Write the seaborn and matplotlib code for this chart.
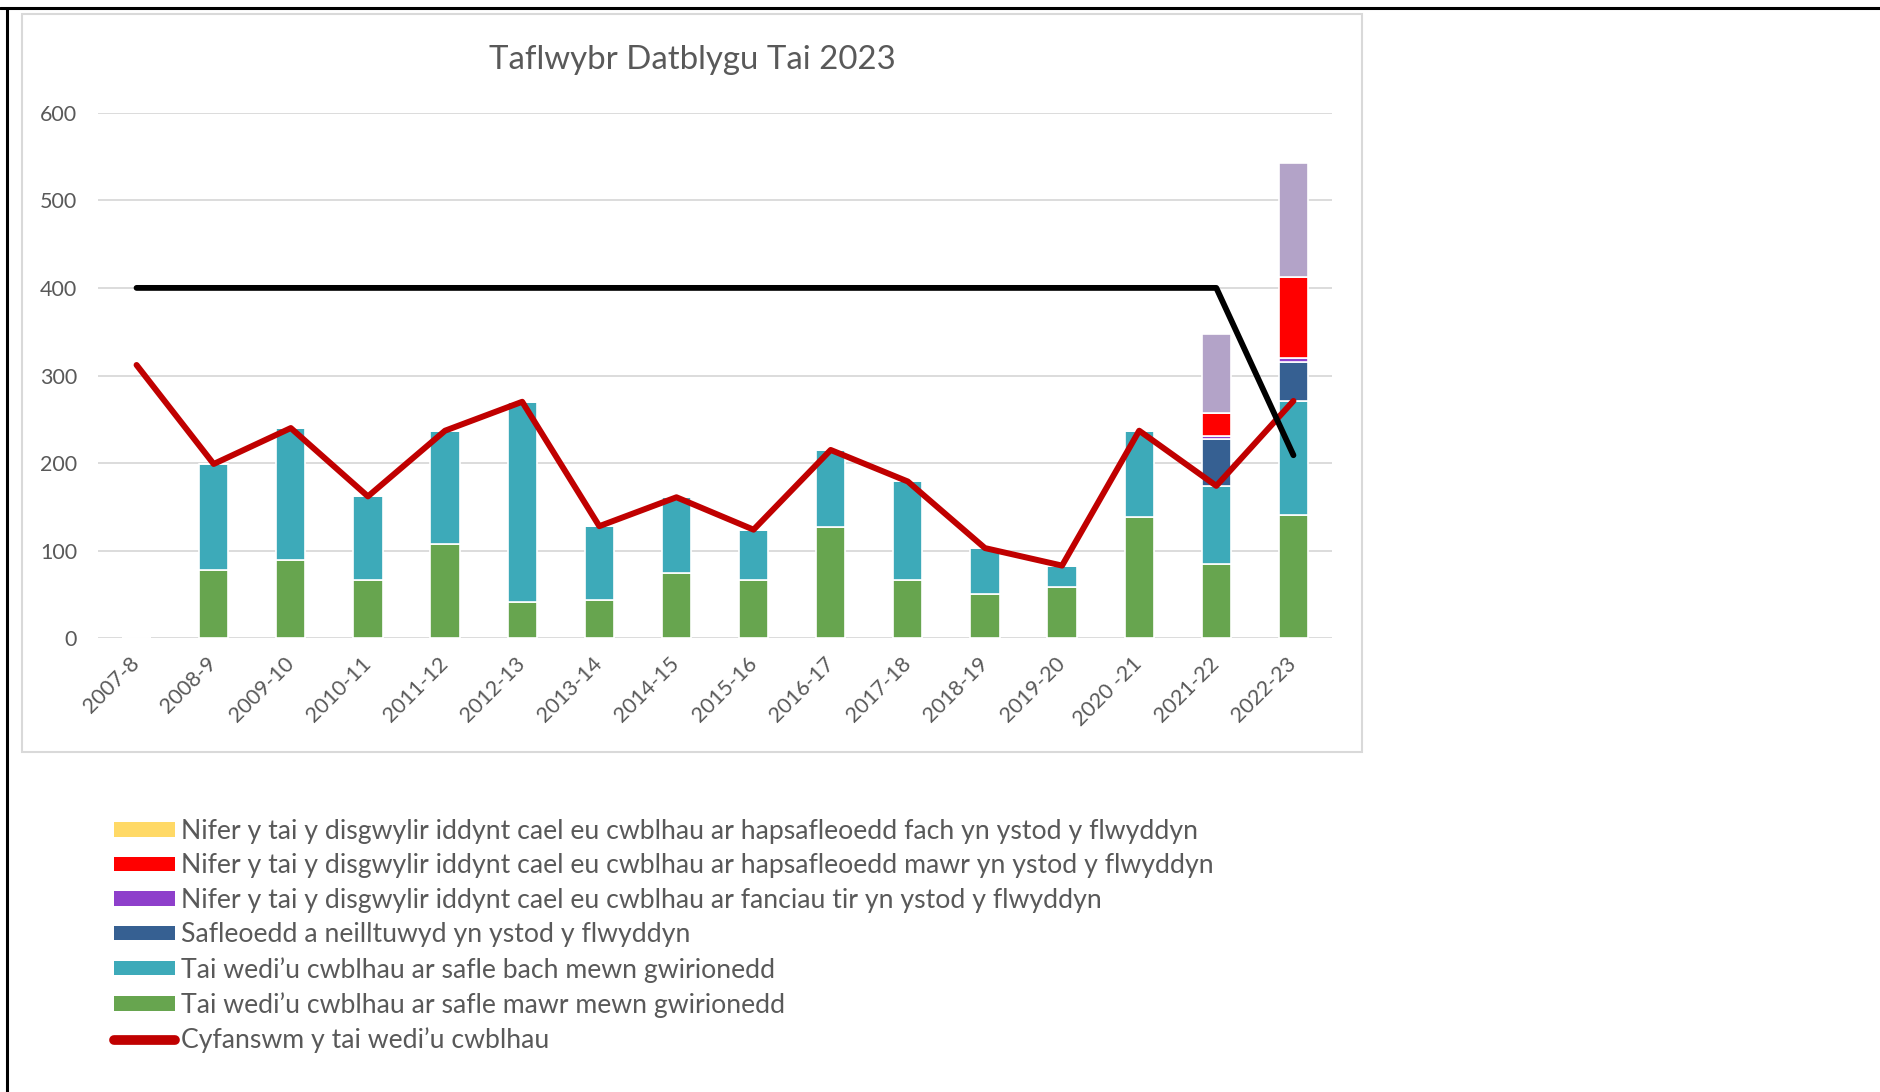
import numpy as np
import pandas as pd
import matplotlib
matplotlib.use("Agg")
import matplotlib.pyplot as plt
from matplotlib.patches import Patch, Rectangle
from matplotlib.lines import Line2D
import seaborn as sns

# ---------------- data ----------------
years = ["2007-8", "2008-9", "2009-10", "2010-11", "2011-12", "2012-13", "2013-14",
         "2014-15", "2015-16", "2016-17", "2017-18", "2018-19", "2019-20", "2020 -21",
         "2021-22", "2022-23"]
large_sites_actual = [0, 78, 89, 67, 108, 41, 44, 75, 67, 127, 67, 51, 58, 138, 85, 141]
small_sites_actual = [0, 121, 151, 95, 129, 229, 84, 86, 57, 88, 112, 52, 25, 99, 89, 130]
allocated_sites = [0, 0, 0, 0, 0, 0, 0, 0, 0, 0, 0, 0, 0, 0, 54, 44]
land_banks_expected = [0, 0, 0, 0, 0, 0, 0, 0, 0, 0, 0, 0, 0, 0, 3, 5]
large_windfall_expected = [0, 0, 0, 0, 0, 0, 0, 0, 0, 0, 0, 0, 0, 0, 26, 93]
small_windfall_expected = [0, 0, 0, 0, 0, 0, 0, 0, 0, 0, 0, 0, 0, 0, 0, 0]
unlabelled_extra = [0, 0, 0, 0, 0, 0, 0, 0, 0, 0, 0, 0, 0, 0, 90, 130]
total_completed = [312, 199, 240, 162, 237, 270, 128, 161, 124, 215, 179, 103, 83, 237, 174, 271]
target_line = [400, 400, 400, 400, 400, 400, 400, 400, 400, 400, 400, 400, 400, 400, 400, 209]

labels = [
    "Nifer y tai y disgwylir iddynt cael eu cwblhau ar hapsafleoedd fach yn ystod y flwyddyn",
    "Nifer y tai y disgwylir iddynt cael eu cwblhau ar hapsafleoedd mawr yn ystod y flwyddyn",
    "Nifer y tai y disgwylir iddynt cael eu cwblhau ar fanciau tir yn ystod y flwyddyn",
    "Safleoedd a neilltuwyd yn ystod y flwyddyn",
    "Tai wedi\u2019u cwblhau ar safle bach mewn gwirionedd",
    "Tai wedi\u2019u cwblhau ar safle mawr mewn gwirionedd",
    "Cyfanswm y tai wedi\u2019u cwblhau",
]
title = "Taflwybr Datblygu Tai 2023"

# ---------------- style ----------------
C_GREEN = "#67A54F"
C_TEAL = "#3DAAB9"
C_BLUE = "#366092"
C_PURPLE = "#8E3FCB"
C_RED = "#FF0000"
C_YELLOW = "#FFD966"
C_LAV = "#B3A3C8"
C_LINE = "#C00000"
TXT = "#595959"

sns.set_theme(style="white")
plt.rcParams["font.family"] = ["Lato", "DejaVu Sans"]

W, H = 1881, 1092
fig = plt.figure(figsize=(W / 100, H / 100), dpi=100)
fig.patch.set_facecolor("white")

ax = fig.add_axes([98 / W, 1 - 638.3 / H, (1332 - 98) / W, (638.3 - 112.7) / H])

stack = [
    (large_sites_actual, C_GREEN),
    (small_sites_actual, C_TEAL),
    (allocated_sites, C_BLUE),
    (land_banks_expected, C_PURPLE),
    (large_windfall_expected, C_RED),
    (small_windfall_expected, C_YELLOW),
    (unlabelled_extra, C_LAV),
]
bottom = np.zeros(len(years))
for vals, col in stack:
    v = np.asarray(vals, dtype=float)
    sns.barplot(x=years, y=v, order=years, color=col, width=0.38, bottom=bottom,
                errorbar=None, edgecolor="white", linewidth=1.2, saturation=1,
                ax=ax, zorder=2)
    bottom = bottom + v

sns.lineplot(x=years, y=total_completed, sort=False, color=C_LINE, lw=4.3,
             ax=ax, zorder=4, solid_capstyle="round")
sns.lineplot(x=years, y=target_line, sort=False, color="black", lw=4.2,
             ax=ax, zorder=5, solid_capstyle="round")

ax.set_xlim(-0.5, len(years) - 0.5)
ax.set_ylim(0, 600)
ax.set_yticks(range(0, 601, 100))
ax.set_axisbelow(True)
ax.yaxis.grid(True, color="#D9D9D9", lw=1.3)
ax.xaxis.grid(False)
for s in ax.spines.values():
    s.set_visible(False)
ax.set_xlabel("")
ax.set_ylabel("")
ax.tick_params(axis="both", length=0, labelsize=15.5, labelcolor=TXT)
ax.tick_params(axis="y", pad=15)
ax.tick_params(axis="x", pad=16)
for lab in ax.get_xticklabels():
    lab.set_rotation(45)
    lab.set_ha("right")
    lab.set_va("center")
    lab.set_rotation_mode("anchor")
ax.patch.set_alpha(0)

# title
fig.text(692 / W, 1 - 60 / H, title, ha="center", va="center", fontsize=23.8, color=TXT)

# chart frame and page borders
fig.add_artist(Rectangle((22 / W, 1 - 752 / H), 1340 / W, 738 / H, transform=fig.transFigure,
                         facecolor="none", edgecolor="#D9D9D9", lw=1.5, zorder=0))
fig.add_artist(Line2D([0, 1], [1 - 7.5 / H, 1 - 7.5 / H], transform=fig.transFigure,
                      color="black", lw=2.2))
fig.add_artist(Line2D([7.5 / W, 7.5 / W], [0, 1 - 7.5 / H], transform=fig.transFigure,
                      color="black", lw=2.2))

# legend
handles = [
    Patch(facecolor=C_YELLOW, edgecolor="none"),
    Patch(facecolor=C_RED, edgecolor="none"),
    Patch(facecolor=C_PURPLE, edgecolor="none"),
    Patch(facecolor=C_BLUE, edgecolor="none"),
    Patch(facecolor=C_TEAL, edgecolor="none"),
    Patch(facecolor=C_GREEN, edgecolor="none"),
    Line2D([0], [0], color=C_LINE, lw=7, solid_capstyle="round"),
]
leg = fig.legend(handles, labels, loc="upper left", bbox_to_anchor=(114 / W, 1 - 819 / H),
                 frameon=False, fontsize=19.2, handlelength=2.27, handleheight=0.45,
                 handletextpad=0.25, labelspacing=0.355, borderpad=0, borderaxespad=0)
for t in leg.get_texts():
    t.set_color(TXT)

fig.savefig("out.png", dpi=100, facecolor="white")
